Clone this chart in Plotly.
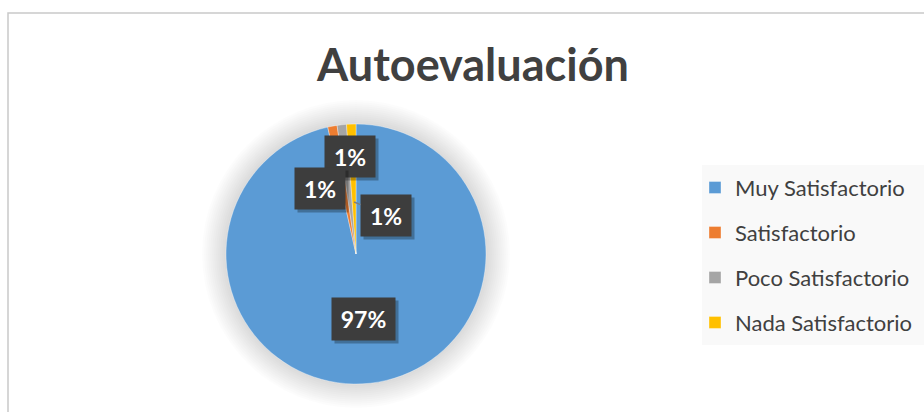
import math
import plotly.graph_objects as go

# ---- data ----
CATEGORIES = ["Muy Satisfactorio", "Satisfactorio", "Poco Satisfactorio", "Nada Satisfactorio"]
VALUES = [83, 1, 1, 1]
COLORS = ["#5B9BD5", "#ED7D31", "#A5A5A5", "#FFC000"]
TITLE = "Autoevaluación"

# ---- layout constants (pixels) ----
W, H = 924, 412
CX, CY, R = 356, 254, 130
FONT = "Lato, Carlito, Calibri, sans-serif"
TXT = "#404040"

total = sum(VALUES)
pcts = [v / total * 100 for v in VALUES]


def paper(px, py):
    return px / W, 1 - py / H


def slice_point(i, rfrac):
    start = sum(VALUES[:i]) / total * 360
    mid = start + VALUES[i] / total * 360 / 2
    t = math.radians(mid)
    return CX + rfrac * R * math.sin(t), CY - rfrac * R * math.cos(t)


legend_labels = [
    f'<span style="font-size:22px;baseline-shift:4.5px">{c}</span>' for c in CATEGORIES
]

fig = go.Figure()
fig.add_trace(go.Pie(
    labels=legend_labels,
    values=VALUES,
    customdata=CATEGORIES,
    hovertemplate="%{customdata}: %{percent}<extra></extra>",
    sort=False,
    direction="clockwise",
    rotation=0,
    marker=dict(colors=COLORS, line=dict(color="rgba(255,255,255,0.7)", width=0.5)),
    textinfo="none",
    domain=dict(x=[(CX - R) / W, (CX + R) / W], y=[1 - (CY + R) / H, 1 - (CY - R) / H]),
))

shapes = []
# chart area border
shapes.append(dict(type="rect", xref="paper", yref="paper",
                   x0=8 / W, x1=1.05, y0=-0.05, y1=1 - 13 / H,
                   line=dict(color="#c9c9c9", width=1.5), fillcolor="rgba(0,0,0,0)", layer="below"))
# legend background
shapes.append(dict(type="rect", xref="paper", yref="paper",
                   x0=702 / W, x1=1.01, y0=1 - 345 / H, y1=1 - 165 / H,
                   line=dict(width=0), fillcolor="#f9f9f9", layer="below"))
# soft glow around the pie
for k in range(24, 0, -2):
    x0, y0 = paper(CX - R - k, CY + R + k)
    x1, y1 = paper(CX + R + k, CY - R - k)
    shapes.append(dict(type="circle", xref="paper", yref="paper",
                       x0=x0, x1=x1, y0=y0, y1=y1,
                       line=dict(width=0), fillcolor="rgba(0,0,0,0.012)", layer="below"))

annotations = []
BOX_BG = "#3d3d3d"
LABEL_FONT = dict(family=FONT, size=23, color="white", weight="bold")

# label placement: (anchor radius fraction, label centre px) -- style only
placement = {
    0: (0.5, None),
    1: (0.6, (320, 188)),
    2: (0.75, (350, 157)),
    3: (0.4, (386, 215)),
}
order = [0, 2, 1, 3]
for i in order:
    rfrac, target = placement[i]
    ax_px, ay_px = slice_point(i, rfrac)
    xp, yp = paper(ax_px, ay_px)
    txt = f"{round(pcts[i])}%"
    bw = 63 if len(txt) > 2 else 50
    bh = 42 if len(txt) > 2 else 41
    if target is None:
        dx, dy, arrow = 0, 0, False
    else:
        dx, dy, arrow = target[0] - ax_px, target[1] - ay_px, True
    common = dict(xref="paper", yref="paper", x=xp, y=yp, text=txt,
                  width=bw, height=bh, borderpad=0, font=LABEL_FONT,
                  align="center", valign="middle", xanchor="center", yanchor="middle")
    # shadow
    annotations.append(dict(common, showarrow=arrow, ax=dx, ay=dy, arrowcolor="rgba(0,0,0,0)",
                            arrowhead=0, xshift=3, yshift=-3,
                            font=dict(LABEL_FONT, color="rgba(0,0,0,0)"),
                            bgcolor="rgba(0,0,0,0.28)"))
    annotations.append(dict(common, showarrow=arrow, ax=dx, ay=dy, arrowcolor="#808080",
                            arrowwidth=1.5, arrowhead=0, bgcolor=BOX_BG))

fig.update_layout(
    width=W, height=H,
    margin=dict(l=0, r=0, t=0, b=0),
    paper_bgcolor="white",
    plot_bgcolor="white",
    title=dict(text=f"<b>{TITLE}</b>", x=473 / W, xanchor="center",
               y=1 - 65 / H, yanchor="middle",
               font=dict(family=FONT, size=45, color=TXT)),
    showlegend=True,
    legend=dict(x=695 / W, xanchor="left", y=1 - 160 / H, yanchor="top",
                bgcolor="rgba(0,0,0,0)",
                font=dict(family=FONT, size=32.3, color=TXT),
                traceorder="normal"),
    shapes=shapes,
    annotations=annotations,
)

fig.write_html("out.html",
               config={"displayModeBar": False},
               post_script="document.body.style.margin='0';document.body.style.overflow='hidden';")
